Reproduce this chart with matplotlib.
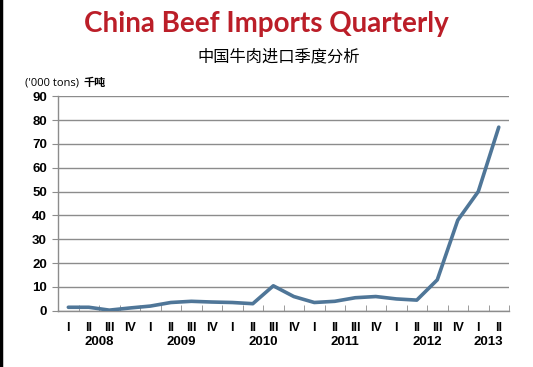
import numpy as np
import matplotlib.pyplot as plt
from matplotlib.lines import Line2D

# Data (thousand tons)
years = ['2008', '2009', '2010', '2011', '2012', '2013']
quarters_per_year = [4, 4, 4, 4, 4, 2]
quarter_names = ['I', 'II', 'III', 'IV']
imports = [1.5, 1.5, 0.3, 1.2, 2.0, 3.5, 4.0, 3.7, 3.5, 3.0, 10.5, 6.0,
           3.5, 4.0, 5.5, 6.0, 5.0, 4.5, 13.0, 38.0, 50.0, 77.0]

plt.rcParams['font.family'] = ['DejaVu Sans', 'Noto Sans CJK SC']

fig = plt.figure(figsize=(5.33, 3.67), dpi=100)
ax = fig.add_axes([0.109, 0.153, 0.846, 0.585])

x = np.arange(len(imports))
ax.plot(x, imports, color='#4f7698', lw=2.6, solid_capstyle='round', zorder=3)

ax.set_xlim(-0.5, len(imports) - 0.5)
ax.set_ylim(0, 90)
ax.set_yticks(range(0, 91, 10))
ax.yaxis.grid(True, color='#8c8c8c', lw=1.0)
ax.set_axisbelow(True)

for s in ['top', 'right']:
    ax.spines[s].set_visible(False)
for s in ['left', 'bottom']:
    ax.spines[s].set_color('#8c8c8c')
    ax.spines[s].set_linewidth(1.0)

# quarter labels, tick marks between categories
q_labels = []
for n in quarters_per_year:
    q_labels += quarter_names[:n]
ax.set_xticks(x)
ax.set_xticklabels(q_labels, fontsize=9, fontweight='bold', family='Liberation Sans')
ax.tick_params(axis='x', which='major', length=0, pad=8)
ax.set_xticks(np.arange(-0.5, len(imports), 1), minor=True)
ax.tick_params(axis='x', which='minor', length=4, color='#8c8c8c', direction='in')
ax.tick_params(axis='y', length=4, color='#8c8c8c', labelsize=9.5, pad=4)
for t in ax.get_yticklabels():
    t.set_fontweight('bold')
    t.set_family('Liberation Sans')

# year labels under each group
start = 0
for yr, n in zip(years, quarters_per_year):
    center = start + (n - 1) / 2
    ax.text(center, -0.115, yr, transform=ax.get_xaxis_transform(),
            ha='center', va='top', fontsize=9.5, fontweight='bold', family='Liberation Sans')
    start += n

fig.text(0.5, 0.935, 'China Beef Imports Quarterly', ha='center', va='center',
         fontsize=20, fontweight='bold', color='#bb1e28', family='Lato')
fig.text(0.523, 0.845, '中国牛肉进口季度分析', ha='center', va='center',
         fontsize=11.7, family='Noto Sans CJK SC')
fig.text(0.047, 0.775, "('000 tons)", ha='left', va='center', fontsize=8,
         family='Open Sans')
fig.text(0.156, 0.775, '千吨', ha='left', va='center', fontsize=8,
         fontweight='bold', family='Noto Sans CJK SC')

# dark frame edge on the left
fig.add_artist(Line2D([0.002, 0.002], [0, 1], color='black', lw=2.5, transform=fig.transFigure))

fig.savefig('out.png', dpi=100)
